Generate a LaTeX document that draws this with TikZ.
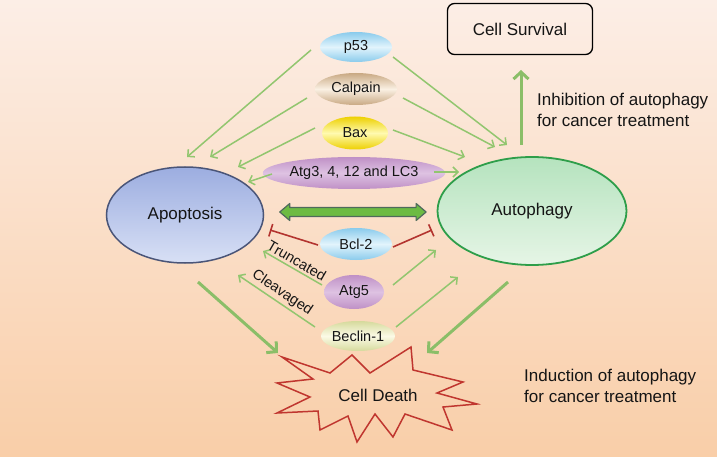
\documentclass[tikz,border=0pt]{standalone}
\usepackage{fontspec}
\setmainfont{Liberation Sans}
\usetikzlibrary{shapes.geometric,arrows.meta,calc}
\definecolor{bgtop}{HTML}{FCEEE6}
\definecolor{bgbot}{HTML}{F9CEA8}
\definecolor{agreen}{HTML}{92C66F}
\definecolor{tgreen}{HTML}{8BBE68}
\definecolor{ired}{HTML}{B3342F}
\definecolor{starred}{HTML}{C0362F}
\definecolor{apoTop}{HTML}{9CADE0}
\definecolor{apoBot}{HTML}{D8E0F5}
\definecolor{apoLine}{HTML}{4A5578}
\definecolor{autTop}{HTML}{B5E3BE}
\definecolor{autBot}{HTML}{E6F5E6}
\definecolor{autLine}{HTML}{2E9E4A}
\definecolor{blueE}{HTML}{8ACBEC}
\definecolor{blueM}{HTML}{E2F4FC}
\definecolor{tanE}{HTML}{C9A983}
\definecolor{tanM}{HTML}{FAF0E3}
\definecolor{yelE}{HTML}{EDD000}
\definecolor{yelM}{HTML}{FFFAB0}
\definecolor{purE}{HTML}{BF90C6}
\definecolor{purM}{HTML}{DEC2E2}
\definecolor{becE}{HTML}{D6DA9C}
\definecolor{becM}{HTML}{FBFAE6}
\definecolor{dgreen}{HTML}{6DBB43}
\definecolor{dgray}{HTML}{4F6A5C}
\definecolor{txt}{HTML}{151515}
\begin{document}
\begin{tikzpicture}[x=1pt,y=-1pt,
  every node/.style={text=txt},
  small/.style={ellipse, inner sep=0pt, font=\fontsize{14.5}{16}\selectfont},
  big/.style={ellipse, inner sep=0pt, font=\fontsize{17}{20}\selectfont},
  ga/.style={draw=agreen, line width=1.5pt, -{Straight Barb[length=5pt,width=10pt]}},
  gthick/.style={draw=tgreen, line width=3pt, -{Straight Barb[length=7pt,width=15pt]}},
  inh/.style={draw=ired, line width=1.6pt, -{Bar[width=13pt]}},
  lbl/.style={font=\fontsize{14.5}{16}\selectfont, anchor=south, inner sep=2.5pt},
  note/.style={anchor=west, align=left, font=\fontsize{17}{21}\selectfont, inner sep=0pt},
]
\useasboundingbox (0,0) rectangle (717,457);
\shade[top color=bgtop, bottom color=bgbot] (0,0) rectangle (717,457);

% main nodes
\node[big, minimum width=157pt, minimum height=96pt, top color=apoTop, bottom color=apoBot, draw=apoLine, line width=1.5pt] (apop) at (185,215) {Apoptosis};
\node[big, minimum width=189pt, minimum height=108pt, top color=autTop, bottom color=autBot, draw=autLine, line width=1.8pt] (auto) at (532,211) {Autophagy};

\node[small, minimum width=72pt, minimum height=30pt, top color=blueE, bottom color=blueE, middle color=blueM] (p53) at (356,47) {p53};
\node[small, minimum width=82pt, minimum height=32pt, top color=tanE, bottom color=tanE, middle color=tanM] (calp) at (356,89) {Calpain};
\node[small, minimum width=66pt, minimum height=33pt, top color=yelE, bottom color=yelE, middle color=yelM] (bax) at (355,133) {Bax};
\node[small, minimum width=155pt, minimum height=32pt, top color=purE, bottom color=purE, middle color=purM] (atg3) at (354,173) {Atg3, 4, 12 and LC3};
\node[small, minimum width=72pt, minimum height=32pt, top color=blueE, bottom color=blueE, middle color=blueM] (bcl) at (356,244) {Bcl-2};
\node[small, minimum width=60pt, minimum height=34pt, top color=purE, bottom color=purE, middle color=purM] (atg5) at (354,292) {Atg5};
\node[small, minimum width=73pt, minimum height=30pt, top color=becE, bottom color=becE, middle color=becM] (becl) at (358,336) {Beclin-1};

\node[draw=black, rounded corners=7pt, line width=1.3pt, minimum width=145pt, minimum height=51pt, font=\fontsize{17}{20}\selectfont] (surv) at (520,29) {Cell Survival};

% cell death star
\draw[starred, line width=1.5pt, line join=miter]
  (282,357) -- (330,373) -- (352,355) -- (370,373) -- (411,347) -- (413,370)
  -- (463,382) -- (437,393) -- (477,404) -- (443,407) -- (452,430) -- (405,414)
  -- (393,437) -- (375,414) -- (357,442) -- (348,416) -- (320,430) -- (318,411)
  -- (277,413) -- (310,397) -- (277,383) -- (313,379) -- cycle;
\node[font=\fontsize{17}{20}\selectfont] (death) at (378,395) {Cell Death};

% notes
\node[note] (inhib) at (537,110) {Inhibition of autophagy\\for cancer treatment};
\node[note] (induc) at (524,386) {Induction of autophagy\\for cancer treatment};

% double arrow between apoptosis and autophagy
\coordinate (dl) at ($(apop.east)+(15.5,-3)$);
\coordinate (dr) at ($(auto.west)+(-10.5,1)$);
\draw[fill=dgreen, draw=dgray, line width=1.2pt, line join=round]
  (dl) -- ++(10,-8.5) -- ++(0,4) -- ($(dr)+(-10,-4.5)$) -- ++(0,-4) -- (dr)
  -- ++(-10,8.5) -- ++(0,-4) -- ($(dl)+(10,4.5)$) -- ++(0,4) -- cycle;

% arrows to apoptosis
\draw[ga] ($(p53)+(-45,3)$) -- ($(apop)+(2,-58)$);
\draw[ga] ($(calp)+(-49,9)$) -- ($(apop)+(25,-58)$);
\draw[ga] ($(bax)+(-40,-5)$) -- ($(apop)+(53,-48)$);
\draw[ga] ($(atg3)+(-82,1)$) -- ($(apop)+(63,-33)$);
% arrows to autophagy
\draw[ga] ($(p53)+(37,10)$) -- ($(auto)+(-25,-66)$);
\draw[ga] ($(calp)+(47,9)$) -- ($(auto)+(-37,-64)$);
\draw[ga] ($(bax)+(38,-3)$) -- ($(auto)+(-67,-54)$);
\draw[ga] ($(atg3)+(80,-1)$) -- ($(auto)+(-73,-39)$);
\draw[gthick] ($(auto)+(-11,-66)$) -- ($(surv)+(1,41)$);
% lower regulators
\draw[inh] ($(bcl)+(-38,1)$) -- ($(apop)+(85,15)$);
\draw[inh] ($(bcl)+(37,3)$) -- ($(auto)+(-100,19)$);
\draw[ga] ($(atg5)+(-32,-7)$) -- node[lbl, midway, rotate=-30] {Truncated} ($(apop)+(78,36)$);
\draw[ga] ($(becl)+(-43,-9)$) -- node[lbl, midway, rotate=-34] {Cleavaged} ($(apop)+(53,60)$);
\draw[ga] ($(atg5)+(39,-7)$) -- ($(auto)+(-96,39)$);
\draw[ga] ($(becl)+(38,-9)$) -- ($(auto)+(-74,66)$);
% to cell death
\draw[gthick] ($(apop)+(13,67)$) -- ($(death)+(-100,-42)$);
\draw[gthick] ($(auto)+(-24,71)$) -- ($(death)+(49,-42)$);
\end{tikzpicture}
\end{document}
